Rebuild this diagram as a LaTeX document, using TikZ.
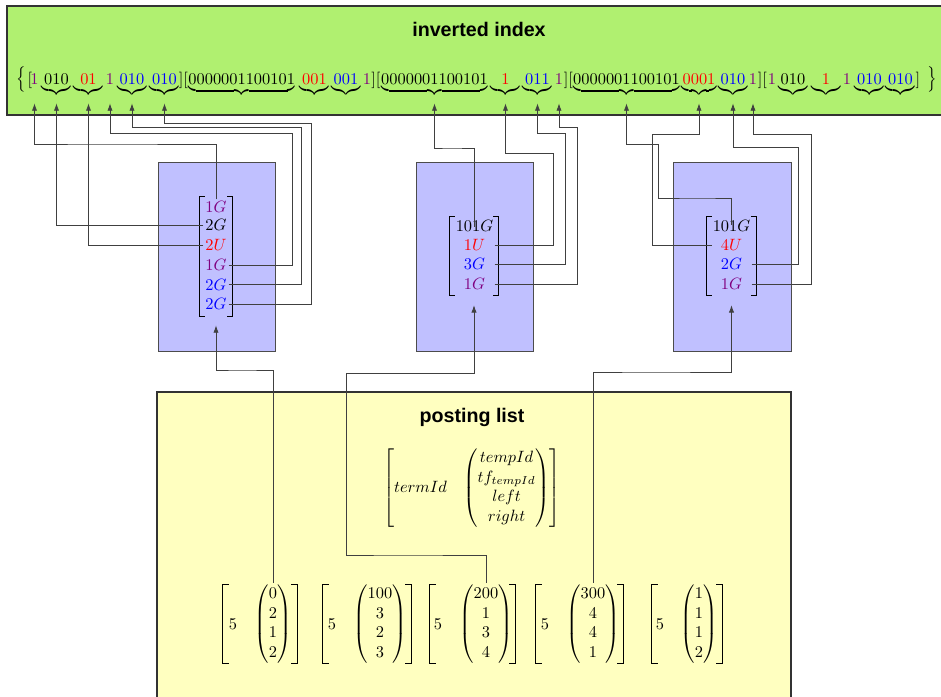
\documentclass[tikz,border=0pt]{standalone}
\usepackage{amsmath}
\usepackage{graphicx}
\usepackage{fontspec}
\newfontfamily\headfont{Liberation Sans}
\usetikzlibrary{arrows.meta,fit}

\definecolor{panelgreen}{RGB}{176,240,112}
\definecolor{panelblue}{RGB}{192,192,255}
\definecolor{panelyellow}{RGB}{255,255,192}
\definecolor{idpurple}{RGB}{128,0,128}
\newlength\pxu \setlength\pxu{0.61pt}

% underbraced group of fixed width
\newcommand\ub[3][18pt]{\underbrace{\makebox[#1]{\color{#2}$#3$}}}
% square brackets drawn around a (fitted) node
\newcommand\brackets[2]{%
  \draw[brk] ([xshift=#2]#1.north west) -- (#1.north west) -- (#1.south west) -- ([xshift=#2]#1.south west);
  \draw[brk] ([xshift=-#2]#1.north east) -- (#1.north east) -- (#1.south east) -- ([xshift=-#2]#1.south east);}

\tikzset{
  conn/.style={draw=black!75, line width=0.5pt},
  arr/.style={conn, -{Latex[length=4.5pt,width=3.2pt]}},
  rw/.style={anchor=base, inner xsep=0pt, inner ysep=4.5pt, text height=7.5pt, text depth=6.5pt},
  ent/.style={inner sep=1pt, text height=6.8pt, text depth=0pt},
  entA/.style={ent, minimum width=15pt},
  entB/.style={ent, minimum width=24pt},
  brk/.style={line width=0.45pt},
  fitbox/.style={inner sep=0pt, draw=none},
  bluebox/.style={fill=panelblue, draw=black!70, line width=0.6pt, inner sep=0pt},
  pent/.style={inner sep=1pt},
  headline/.style={font=\headfont\bfseries\fontsize{12}{14}\selectfont}
}

\begin{document}
\begin{tikzpicture}[x=0.61pt, y=-0.61pt]
\clip (0,0) rectangle (941,697);

% ---- panels ----
\draw[fill=panelgreen, draw=black!80, line width=1.2pt] (7,6) rectangle (960,115);
\draw[fill=panelyellow, draw=black!80, line width=0.8pt] (157,392) rectangle (791,720);
\node[bluebox, fit={(158,162)(275,351)}] (pane1) {};
\node[bluebox, fit={(416,162)(533,351)}] (pane2) {};
\node[bluebox, fit={(673,162)(791,351)}] (pane3) {};

\node[headline] (ttlA) at (479,29) {inverted index};
\node[headline] (ttlB) at (472,417) {posting list};

% ---- inverted index row ----
\node[rw] (lbr) at (21.5,85) {\scalebox{1}[1.3]{$\bigl\{$}};
\node[rw] (s0) at (30,85) {$[$};
\node[rw, text=idpurple] (a1) at (34.5,85) {$1$};
\node[rw] (a2) at (56.5,85) {$\ub{black}{010}$};
\node[rw] (a3) at (88.5,85) {$\ub{red}{01}$};
\node[rw, text=idpurple] (a4) at (110,85) {$1$};
\node[rw] (a5) at (132,85) {$\ub{blue}{010}$};
\node[rw] (a6) at (164.5,85) {$\ub{blue}{010}$};
\node[rw] (s1) at (183.5,85) {$][$};
\node[rw] (b1) at (241.7,85) {$\ub[65pt]{black}{0000001100101}$};
\node[rw] (b2) at (314.5,85) {$\ub{red}{001}$};
\node[rw] (b3) at (346,85) {$\ub[17pt]{blue}{001}$};
\node[rw, text=idpurple] (b4) at (367,85) {$1$};
\node[rw] (s2) at (376,85) {$][$};
\node[rw] (c1) at (434.5,85) {$\ub[65pt]{black}{0000001100101}$};
\node[rw] (c2) at (505.5,85) {$\ub[17pt]{red}{1}$};
\node[rw] (c3) at (537.5,85) {$\ub{blue}{011}$};
\node[rw, text=idpurple] (c4) at (559,85) {$1$};
\node[rw] (s3) at (568.5,85) {$][$};
\node[rw] (d1) at (626.5,85) {$\ub[65pt]{black}{0000001100101}$};
\node[rw] (d2) at (699,85) {$\ub[21.5pt]{red}{0001}$};
\node[rw] (d3) at (733,85) {$\ub{blue}{010}$};
\node[rw, text=idpurple] (d4) at (753,85) {$1$};
\node[rw] (s4) at (762.5,85) {$][$};
\node[rw, text=idpurple] (e1) at (772,85) {$1$};
\node[rw] (e2) at (793,85) {$\ub[17pt]{black}{010}$};
\node[rw] (e3) at (826,85) {$\ub[17pt]{red}{1}$};
\node[rw, text=idpurple] (e4) at (847,85) {$1$};
\node[rw] (e5) at (869.5,85) {$\ub{blue}{010}$};
\node[rw] (e6) at (900.5,85) {$\ub{blue}{010}$};
\node[rw] (s5) at (918,85) {$]$};
\node[rw] (rbr) at (932,85) {\scalebox{1}[1.3]{$\bigr\}$}};

% ---- term matrices in the blue panels ----
\node[entA, text=idpurple] (m1r1) at (216,207) {$1G$};
\node[entA]                (m1r2) at (216,225) {$2G$};
\node[entA, text=red]      (m1r3) at (216,245) {$2U$};
\node[entA, text=idpurple] (m1r4) at (216,265) {$1G$};
\node[entA, text=blue]     (m1r5) at (216,284.5) {$2G$};
\node[entA, text=blue]     (m1r6) at (216,304) {$2G$};
\node[fitbox, fit={(200,197)(232,316)}] (m1) {};
\brackets{m1}{3pt}

\node[entB]                (m2r1) at (474.5,226) {$101G$};
\node[entB, text=red]      (m2r2) at (474.5,245) {$1U$};
\node[entB, text=blue]     (m2r3) at (474.5,264) {$3G$};
\node[entB, text=idpurple] (m2r4) at (474.5,284) {$1G$};
\node[fitbox, fit={(450,217)(498,295)}] (m2) {};
\brackets{m2}{3pt}

\node[entB]                (m3r1) at (731.5,226) {$101G$};
\node[entB, text=red]      (m3r2) at (731.5,245) {$4U$};
\node[entB, text=blue]     (m3r3) at (731.5,264) {$2G$};
\node[entB, text=idpurple] (m3r4) at (731.5,284) {$1G$};
\node[fitbox, fit={(707,217)(756,295)}] (m3) {};
\brackets{m3}{3pt}

% ---- posting list ----
\node (tpl) at (472,488) {$\begin{bmatrix} termId & \begin{pmatrix} tempId\\ tf_{tempId}\\ left\\ right\end{pmatrix}\end{bmatrix}$};

\node[pent] (p1a) at (233,624) {$5$};
\node[pent] (p1v) at (273,624) {$\begin{pmatrix}0\\2\\1\\2\end{pmatrix}$};
\node[fitbox, fit={(223,585)(297,663)}] (p1) {};
\brackets{p1}{3.6pt}

\node[pent] (p2a) at (332,624) {$5$};
\node[pent] (p2v) at (380,624) {$\begin{pmatrix}100\\3\\2\\3\end{pmatrix}$};
\node[fitbox, fit={(323,585)(411,663)}] (p2) {};
\brackets{p2}{3.6pt}

\node[pent] (p3a) at (438,624) {$5$};
\node[pent] (p3v) at (486,624) {$\begin{pmatrix}200\\1\\3\\4\end{pmatrix}$};
\node[fitbox, fit={(430,585)(515,663)}] (p3) {};
\brackets{p3}{3.6pt}

\node[pent] (p4a) at (545,624) {$5$};
\node[pent] (p4v) at (593,624) {$\begin{pmatrix}300\\4\\4\\1\end{pmatrix}$};
\node[fitbox, fit={(536,585)(623,663)}] (p4) {};
\brackets{p4}{3.6pt}

\node[pent] (p5a) at (660,624) {$5$};
\node[pent] (p5v) at (699,624) {$\begin{pmatrix}1\\1\\1\\2\end{pmatrix}$};
\node[fitbox, fit={(652,585)(722,663)}] (p5) {};
\brackets{p5}{3.6pt}

% ---- connectors: term entries to the index ----
\draw[arr] (m1r1.north) |- (100,144) -| (a1.south);
\draw[arr] (m1r2.west) -| (a2.south);
\draw[arr] (m1r3.west) -| (a3.south);
\draw[arr] (m1r4.east) -| (292,133) -| (a4.south);
\draw[arr] (m1r5.east) -| (301,127) -| (a5.south);
\draw[arr] (m1r6.east) -| (311,123) -| (a6.south);

\draw[arr, shorten <=-5pt] (m2r1.north) |- (450,148) -| (c1.south);
\draw[arr] (m2r2.east) -| (553,153) -| (c2.south);
\draw[arr] (m2r3.east) -| (565,133) -| (c3.south);
\draw[arr] (m2r4.east) -| (577,127) -| (c4.south);

\draw[arr, shorten <=-4pt] (m3r1.north) |- (700,198) -| (658,144) -| (d1.south);
\draw[arr] (m3r2.west) -| (652,134) -| (d2.south);
\draw[arr] (m3r3.east) -| (798,147) -| (d3.south);
\draw[arr] (m3r4.east) -| (811,134) -| (d4.south);

% ---- connectors: postings to term matrices ----
\draw[arr, shorten >=5.5pt] (p1v.north) |- (240,370) -| (m1.south);
\draw[arr, shorten >=6pt] (p3v.north) |- (400,555) -| (346,373) -| (m2.south);
\draw[arr, shorten >=6pt] (p4v.north) |- (650,372) -| (m3.south);
\end{tikzpicture}
\end{document}
